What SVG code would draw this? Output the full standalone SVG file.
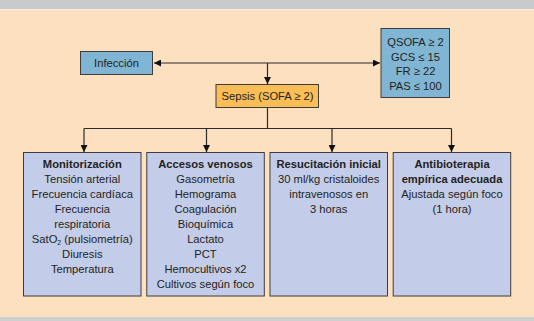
<svg xmlns="http://www.w3.org/2000/svg" width="534" height="321" viewBox="0 0 534 321">
<style>
text{font-family:"Liberation Sans",Arial,sans-serif;font-size:11.2px;fill:#231f20;text-anchor:middle}
.b{font-weight:bold}
.box{stroke:#3d3d3d;stroke-width:1}
.blue{fill:#80b6d4}
.lav{fill:#c3cce9}
.org{fill:#fbbd55}
.ln{stroke:#2b2b2b;stroke-width:1.2;fill:none}
</style>
<defs>
<marker id="ah" viewBox="0 0 10 10" refX="10" refY="5" markerWidth="7" markerHeight="7" markerUnits="userSpaceOnUse" orient="auto-start-reverse">
<path d="M0,0 L10,5 L0,10 Z" fill="#111"/>
</marker>
</defs>
<rect x="0" y="0" width="534" height="321" fill="#fde0bf"/>
<rect x="0" y="0" width="534" height="9" fill="#c9cacc"/>
<rect x="0" y="9" width="534" height="1" fill="#f2efea"/>
<rect x="0" y="317" width="534" height="4" fill="#cfcfcf"/>

<g id="connectors">
<line class="ln" x1="154" y1="63" x2="380" y2="63" marker-start="url(#ah)" marker-end="url(#ah)"/>
<line class="ln" x1="267.5" y1="63" x2="267.5" y2="84" marker-end="url(#ah)"/>
<line class="ln" x1="267.5" y1="108" x2="267.5" y2="128.5"/>
<line class="ln" x1="84" y1="128.5" x2="451.5" y2="128.5"/>
<line class="ln" x1="84" y1="128.5" x2="84" y2="152" marker-end="url(#ah)"/>
<line class="ln" x1="206.5" y1="128.5" x2="206.5" y2="152" marker-end="url(#ah)"/>
<line class="ln" x1="332" y1="128.5" x2="332" y2="152" marker-end="url(#ah)"/>
<line class="ln" x1="451.5" y1="128.5" x2="451.5" y2="152" marker-end="url(#ah)"/>
</g>

<g id="infeccion">
<rect class="box blue" x="80.5" y="51.5" width="72" height="23"/>
<text x="116.5" y="67">Infección</text>
</g>

<g id="qsofa">
<rect class="box blue" x="381" y="28.5" width="68.5" height="69"/>
<text x="415.5" y="46">QSOFA ≥ 2</text>
<text x="415.5" y="60.5">GCS ≤ 15</text>
<text x="415.5" y="75">FR ≥ 22</text>
<text x="415.5" y="89.5">PAS ≤ 100</text>
</g>

<g id="sepsis">
<rect class="box org" x="216" y="84.5" width="102.5" height="23"/>
<text x="267.5" y="100">Sepsis (SOFA ≥ 2)</text>
</g>

<g id="monitorizacion">
<rect class="box lav" x="23.5" y="152.5" width="117.5" height="143.5"/>
<text class="b" x="82.3" y="168">Monitorización</text>
<text x="82.3" y="183">Tensión arterial</text>
<text x="82.3" y="198">Frecuencia cardíaca</text>
<text x="82.3" y="213">Frecuencia</text>
<text x="82.3" y="228">respiratoria</text>
<text x="82.3" y="243">SatO<tspan font-size="7" dy="2">2</tspan><tspan dy="-2"> (pulsiometría)</tspan></text>
<text x="82.3" y="258">Diuresis</text>
<text x="82.3" y="273">Temperatura</text>
</g>

<g id="accesos">
<rect class="box lav" x="146.8" y="152.5" width="117.5" height="143.5"/>
<text class="b" x="205.5" y="168">Accesos venosos</text>
<text x="205.5" y="183">Gasometría</text>
<text x="205.5" y="198">Hemograma</text>
<text x="205.5" y="213">Coagulación</text>
<text x="205.5" y="228">Bioquímica</text>
<text x="205.5" y="243">Lactato</text>
<text x="205.5" y="258">PCT</text>
<text x="205.5" y="273">Hemocultivos x2</text>
<text x="205.5" y="288">Cultivos según foco</text>
</g>

<g id="resucitacion">
<rect class="box lav" x="270" y="152.5" width="117.5" height="143.5"/>
<text class="b" x="328.7" y="168">Resucitación inicial</text>
<text x="328.7" y="183">30 ml/kg cristaloides</text>
<text x="328.7" y="198">intravenosos en</text>
<text x="328.7" y="213">3 horas</text>
</g>

<g id="antibioterapia">
<rect class="box lav" x="393.2" y="152.5" width="117.5" height="143.5"/>
<text class="b" x="452" y="168">Antibioterapia</text>
<text class="b" x="452" y="183">empírica adecuada</text>
<text x="452" y="198">Ajustada según foco</text>
<text x="452" y="213">(1 hora)</text>
</g>
</svg>
